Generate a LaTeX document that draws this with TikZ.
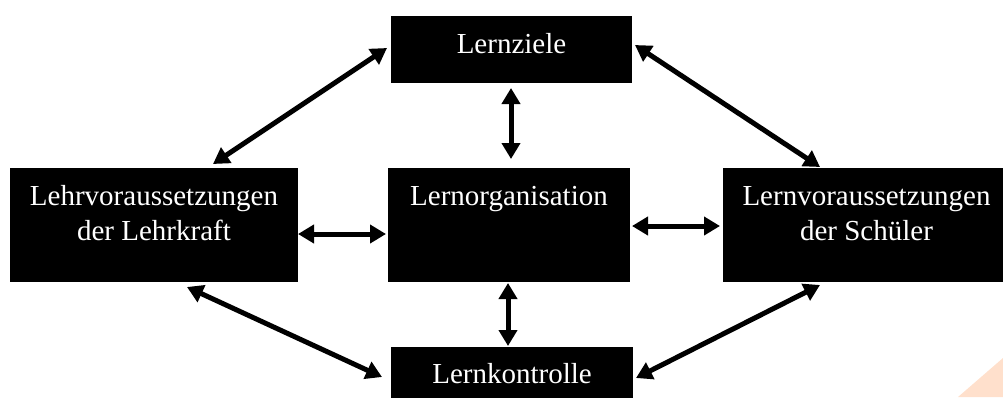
\documentclass[tikz,border=0pt]{standalone}
\usepackage{fontspec}
\setmainfont{Liberation Serif}
\usetikzlibrary{arrows.meta}
\definecolor{pfirsich}{RGB}{255,224,204}
\tikzset{
	kasten/.style={fill=black, draw=none, inner sep=0pt},
	titel/.style={text=white, align=center, anchor=north, inner sep=0pt, text height=20pt, font=\fontsize{29}{35}\selectfont},
	zweizeilig/.style={titel, text height=55pt},
	pfeil/.style={line width=5pt, {Triangle[length=16pt,width=18pt]}-{Triangle[length=16pt,width=18pt]}}
}
\begin{document}
\begin{tikzpicture}[x=1pt,y=-1pt]
	\useasboundingbox (0,0) rectangle (1003,397);
	\fill[pfirsich] (958,397) -- (1003,358) -- (1003,397) -- cycle;
	
	% Kaesten
	\node[kasten, minimum width=241pt, minimum height=67pt] (ziele) at (511.5,49.5) {};
	\node[kasten, minimum width=242pt, minimum height=114pt] (orga) at (509,225) {};
	\node[kasten, minimum width=288pt, minimum height=114pt] (lehr) at (154,225) {};
	\node[kasten, minimum width=287pt, minimum height=114pt] (lern) at (866.5,225) {};
	\node[kasten, minimum width=242pt, minimum height=67pt] (kontr) at (512,380.5) {};
	
	\node[titel] (zieleT) at ([yshift=-17pt]ziele.north) {Lernziele};
	\node[titel] (orgaT) at ([yshift=-17pt]orga.north) {Lernorganisation};
	\node[zweizeilig] (lehrT) at ([yshift=-17pt]lehr.north) {Lehrvoraussetzungen\\der Lehrkraft};
	\node[zweizeilig] (lernT) at ([yshift=-17pt]lern.north) {Lernvoraussetzungen\\der Schüler};
	\node[titel] (kontrT) at ([yshift=-16pt]kontr.north) {Lernkontrolle};
	
	% Pfeilenden
	\coordinate (zl1) at (387,48);  \coordinate (zl2) at (213,164);
	\coordinate (zr1) at (635,45);  \coordinate (zr2) at (820,167);
	\coordinate (zo1) at (511,88);  \coordinate (zo2) at (511,159);
	\coordinate (lo1) at (298,234); \coordinate (lo2) at (386,234);
	\coordinate (or1) at (632,226); \coordinate (or2) at (720,226);
	\coordinate (ok1) at (508,283); \coordinate (ok2) at (508,346);
	\coordinate (kl1) at (187,287); \coordinate (kl2) at (382,377);
	\coordinate (kr1) at (820,285); \coordinate (kr2) at (636,378);
	
	\foreach \a/\b in {zl1/zl2, zr1/zr2, zo1/zo2, lo1/lo2, or1/or2, ok1/ok2, kl1/kl2, kr1/kr2}
	{
		\draw[pfeil] (\a) -- (\b);
	}
	
\end{tikzpicture}
\end{document}
